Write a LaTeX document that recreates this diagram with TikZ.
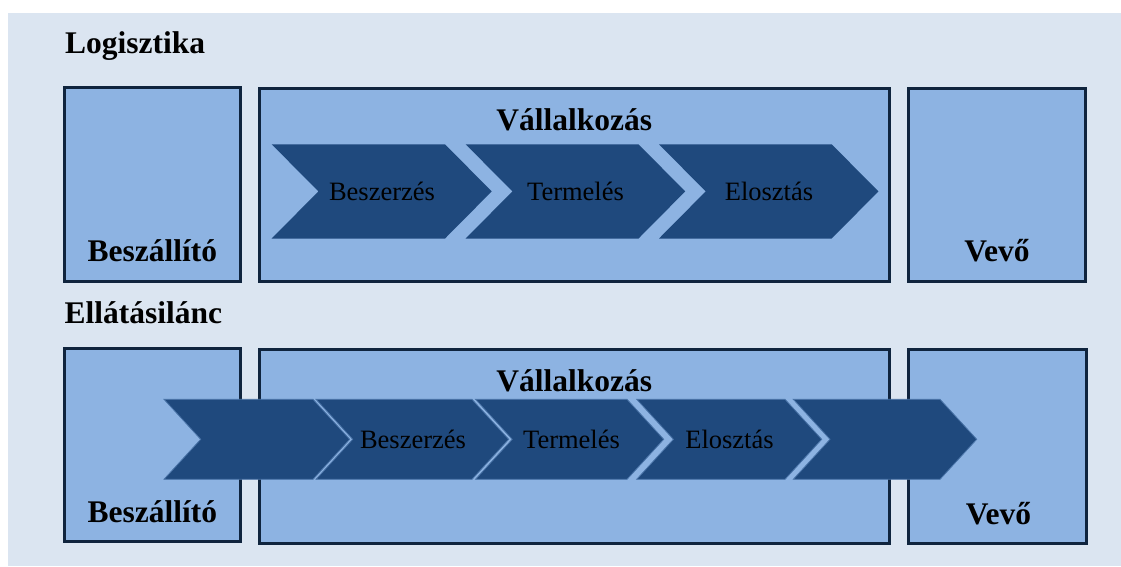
\documentclass[tikz,border=0pt]{standalone}
\usepackage{fontspec}
\setmainfont{Liberation Serif}
\definecolor{paleblue}{HTML}{DBE5F1}
\definecolor{boxblue}{HTML}{8DB3E2}
\definecolor{navy}{HTML}{1F497D}
\definecolor{darknavy}{HTML}{0F243E}
\definecolor{edgeblue}{HTML}{4A74A8}
\tikzset{
  partybox/.style={draw=darknavy, line width=3pt, fill=boxblue},
  chevronshape/.style={fill=navy, draw=edgeblue, line width=0.8pt, line join=miter},
  headline/.style={inner sep=0pt, font=\fontsize{31.5}{36}\selectfont\bfseries},
  steplabel/.style={inner sep=0pt, font=\fontsize{26.5}{30}\selectfont},
}
% chevron: left x, right-corner x, top y, bottom y, point depth
\newcommand{\chevronpath}[5]{%
  (#1,#3) -- (#2,#3) -- ({#2+#5},{(#3+#4)/2}) -- (#2,#4) -- (#1,#4) -- ({#1+#5},{(#3+#4)/2}) -- cycle}
\begin{document}
\begin{tikzpicture}[x=1pt, y=-1pt]
\useasboundingbox (0,0) rectangle (1121,566);
\fill[paleblue] (8,13) rectangle (1121,566);

% ---- Logistics row ----
\node[headline, anchor=base west] (logtitle) at (65,53) {Logisztika};
\draw[partybox] (64.5,87.5) rectangle (240.2,281.5);
\draw[partybox] (259.2,88.5) rectangle (889.2,281.5);
\draw[partybox] (908.5,88.5) rectangle (1085.5,281.5);
\node[headline, anchor=base] (supA) at (152.4,261) {Beszállító};
\node[headline, anchor=base] (firmA) at (574.2,130) {Vállalkozás};
\node[headline, anchor=base] (custA) at (997,261.5) {Vevő};

\fill[navy] \chevronpath{271.7}{445}{144.3}{238.5}{46.7};
\fill[navy] \chevronpath{465.7}{638.5}{144.3}{238.5}{46.7};
\fill[navy] \chevronpath{659}{831.7}{144.3}{238.5}{46.7};
\node[steplabel, anchor=base] (buyA) at (382,200.7) {Beszerzés};
\node[steplabel, anchor=base] (makeA) at (575.5,200.7) {Termelés};
\node[steplabel, anchor=base] (shipA) at (769,200.7) {Elosztás};

% ---- Supply chain row ----
\node[headline, anchor=base west] (sctitle) at (64.3,323.3) {Ellátásilánc};
\draw[partybox] (64.5,348.2) rectangle (240.2,541.8);
\draw[partybox] (259.2,349.8) rectangle (889.2,543.5);
\draw[partybox] (908.8,349.8) rectangle (1086.2,543.5);
\node[headline, anchor=base] (supB) at (152.4,522.3) {Beszállító};
\node[headline, anchor=base] (firmB) at (574.2,391) {Vállalkozás};
\node[headline, anchor=base] (custB) at (998.5,524.3) {Vevő};

\path[chevronshape] \chevronpath{164}{313}{399.3}{479.3}{36.7};
\path[chevronshape] \chevronpath{316}{472}{399.3}{479.3}{36.7};
\path[chevronshape] \chevronpath{475.5}{627}{399.3}{479.3}{36.7};
\path[chevronshape] \chevronpath{636.7}{785}{399.3}{479.3}{36.7};
\path[chevronshape] \chevronpath{793.3}{940}{399.3}{479.3}{36.7};
\node[steplabel, anchor=base] (buyB) at (413,448.3) {Beszerzés};
\node[steplabel, anchor=base] (makeB) at (571.5,448.3) {Termelés};
\node[steplabel, anchor=base] (shipB) at (729.5,448.3) {Elosztás};
\end{tikzpicture}
\end{document}
